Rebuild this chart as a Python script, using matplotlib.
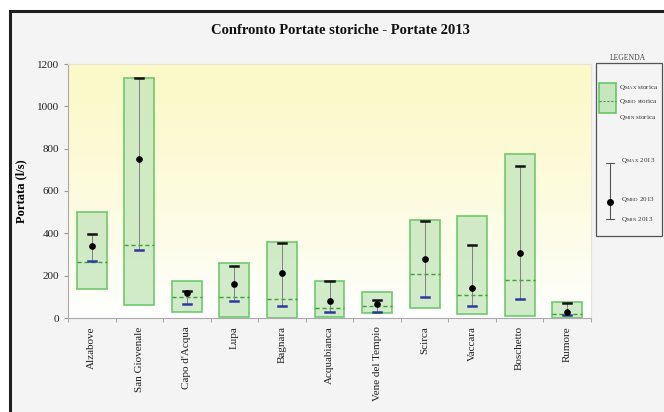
import numpy as np
import matplotlib
matplotlib.use("Agg")
import matplotlib.pyplot as plt
from matplotlib.patches import Rectangle
from matplotlib.lines import Line2D

plt.rcParams['font.family'] = ['Liberation Serif', 'DejaVu Serif']
plt.rcParams['mathtext.fontset'] = 'stix'

# stations and flow values (l/s)
categories = ["Alzabove", "San Giovenale", "Capo d'Acqua", "Lupa", "Bagnara",
              "Acquabianca", "Vene del Tempio", "Scirca", "Vaccara",
              "Boschetto", "Rumore"]
q_max_storica = [502, 1135, 177, 262, 357, 175, 123, 462, 482, 776, 74]
q_med_storica = [265, 345, 97, 100, 89, 45, 57, 210, 109, 180, 18]
q_min_storica = [135, 63, 26, 5, 0, 3, 22, 46, 21, 11, 0]
q_max_2013 = [397, 1135, 128, 246, 354, 177, 87, 460, 344, 716, 70]
q_med_2013 = [340, 751, 116, 160, 212, 82, 65, 278, 142, 307, 28]
q_min_2013 = [269, 320, 66, 78, 57, 28, 27, 98, 57, 89, 13]
y_ticks = [0, 200, 400, 600, 800, 1000, 1200]

W, H = 664, 412
fig = plt.figure(figsize=(W / 100, H / 100), dpi=100, facecolor='white')


def fx(x):
    return x / W


def fy(y):
    return 1 - y / H


# outer frame
fig.patches.append(Rectangle((fx(10), -0.1), 1.0, fy(11) + 0.1, transform=fig.transFigure,
                             facecolor='#f3f4f3', edgecolor='#1e1e1e', lw=2.2, zorder=-10))

ax = fig.add_axes([fx(68), fy(318), fx(591) - fx(68), fy(64) - fy(318)])
ax.set_facecolor('white')

# yellow -> white gradient background
grad = np.linspace(0, 1, 256) ** 1.3
top = np.array([251, 249, 200]) / 255
bottom = np.array([255, 255, 255]) / 255
img = (top[None, :] * (1 - grad[:, None]) + bottom[None, :] * grad[:, None])[:, None, :]
ax.imshow(img, extent=[0, 1, 0, 1], transform=ax.transAxes, aspect='auto', zorder=0)

x = np.arange(len(categories))
bw = 0.63
green_edge = '#5cc45c'
for i in x:
    ax.add_patch(Rectangle((i - bw / 2, q_min_storica[i]), bw, q_max_storica[i] - q_min_storica[i],
                           facecolor='#c6e6bd', alpha=0.8, edgecolor=green_edge, lw=1.3, zorder=2))
    ax.plot([i - bw / 2, i + bw / 2], [q_med_storica[i]] * 2, color='#3f9f3a',
            ls=(0, (3, 2)), lw=1.0, zorder=3)
    ax.plot([i, i], [q_min_2013[i], q_max_2013[i]], color='#808080', lw=0.7, zorder=3)
    ax.plot([i - 0.085, i + 0.085], [q_max_2013[i]] * 2, color='#111111', lw=1.8, zorder=4)
    ax.plot([i - 0.085, i + 0.085], [q_min_2013[i]] * 2, color='#2c3a9c', lw=1.8, zorder=4)

ax.plot(x, q_med_2013, 'o', color='black', ms=3.8, ls='none', zorder=5)

ax.set_xlim(-0.5, len(categories) - 0.5)
ax.set_ylim(0, 1200)
ax.set_xticks(x)
ax.set_xticklabels(categories, rotation=90, fontsize=8, color='#222222')
ax.set_xticks(np.arange(-0.5, len(categories)), minor=True)
ax.tick_params(axis='x', which='major', length=0, pad=6)
ax.tick_params(axis='x', which='minor', length=3, color='#999999')
ax.set_yticks(y_ticks)
ax.tick_params(axis='y', labelsize=8, length=3, color='#999999', labelcolor='#222222')
ax.set_ylabel('Portata (l/s)', fontsize=9, fontweight='bold', labelpad=7)
for s in ['left', 'bottom']:
    ax.spines[s].set_color('#aaaaaa')
for s in ['top', 'right']:
    ax.spines[s].set_color('#e4e4d8')
    ax.spines[s].set_linewidth(0.8)

fig.text(fx(340), fy(30), 'Confronto Portate storiche - Portate 2013', ha='center', va='center',
         fontsize=10.5, fontweight='bold', color='#111111')

# legend panel
fig.text(fx(628), fy(58), 'LEGENDA', ha='center', va='center', fontsize=5.5, color='#444444')
fig.patches.append(Rectangle((fx(596), fy(236)), fx(662) - fx(596), fy(63) - fy(236),
                             transform=fig.transFigure, facecolor='none', edgecolor='#555555', lw=0.9))
fig.patches.append(Rectangle((fx(599), fy(113)), fx(616) - fx(599), fy(83) - fy(113),
                             transform=fig.transFigure, facecolor='#c6e6bd', edgecolor=green_edge, lw=1.1))
fig.lines.append(Line2D([fx(599), fx(616)], [fy(101), fy(101)], transform=fig.transFigure,
                        color='#3f9f3a', ls=(0, (2, 1.5)), lw=0.8))
leg_st = [('MAX', 87), ('MED', 102), ('MIN', 117)]
for lab, yy in leg_st:
    fig.text(fx(619), fy(yy), r'Q$_{\mathrm{%s}}$ storica' % lab, ha='left', va='center',
             fontsize=5, color='#333333')
fig.lines.append(Line2D([fx(610), fx(610)], [fy(163), fy(219)], transform=fig.transFigure,
                        color='#555555', lw=0.8))
for yy in (163, 219):
    fig.lines.append(Line2D([fx(606), fx(614)], [fy(yy), fy(yy)], transform=fig.transFigure,
                            color='#555555', lw=0.8))
fig.lines.append(Line2D([fx(610)], [fy(202)], transform=fig.transFigure, marker='o',
                        color='black', ms=4))
leg_13 = [('MAX', 160), ('MED', 200), ('MIN', 219)]
for lab, yy in leg_13:
    fig.text(fx(621), fy(yy), r'Q$_{\mathrm{%s}}$ 2013' % lab, ha='left', va='center',
             fontsize=5, color='#333333')

fig.savefig('out.png', dpi=100, facecolor=fig.get_facecolor())
